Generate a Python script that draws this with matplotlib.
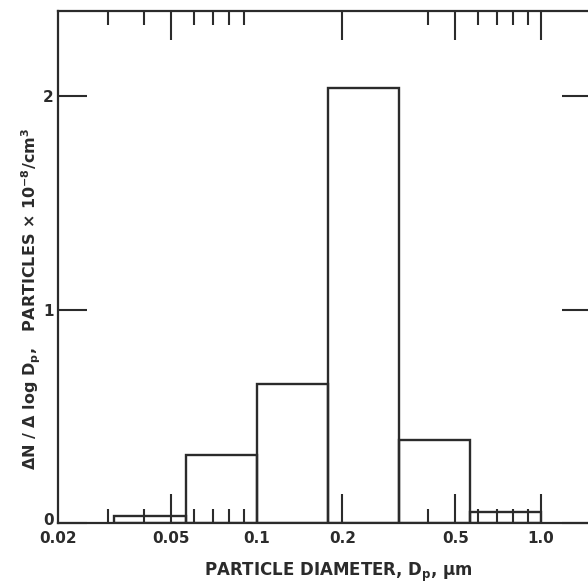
import matplotlib
matplotlib.use('Agg')
import matplotlib.pyplot as plt
from matplotlib.transforms import ScaledTranslation

# bin edges (um) and heights
bin_edges = [0.0316, 0.0562, 0.1, 0.178, 0.316, 0.562, 1.0]
counts = [0.033, 0.32, 0.65, 2.04, 0.39, 0.05]

x_major = [0.02, 0.05, 0.1, 0.2, 0.5, 1.0]
x_labels = ['0.02', '0.05', '0.1', '0.2', '0.5', '1.0']
x_minor = [0.03, 0.04, 0.06, 0.07, 0.08, 0.09, 0.4, 0.6, 0.7, 0.8, 0.9]
y_major = [0, 1, 2]
y_labels = ['0', '1', '2']

ink = '#2b2b2b'
plt.rcParams['font.family'] = ['DejaVu Sans']
plt.rcParams['font.weight'] = 'bold'

fig = plt.figure(figsize=(5.88, 5.87), dpi=100)
ax = fig.add_axes([58 / 588, 64 / 587, 533 / 588, 512.3 / 587])

# histogram drawn as outlined boxes
for i in range(len(counts)):
    ax.bar(bin_edges[i], counts[i], width=bin_edges[i + 1] - bin_edges[i],
           align='edge', fill=False, edgecolor=ink, linewidth=1.7)

ax.set_xscale('log')
ax.set_xlim(0.02, 1.5)
ax.set_ylim(0, 2.4)

ax.set_xticks(x_major)
ax.set_xticklabels(x_labels)
ax.set_xticks(x_minor, minor=True)
ax.xaxis.set_minor_formatter(matplotlib.ticker.NullFormatter())
ax.set_yticks(y_major)
ax.set_yticklabels(y_labels)

ax.tick_params(axis='x', which='major', direction='in', length=21, width=1.5,
               top=True, bottom=True, color=ink, labelsize=11, pad=6,
               labelcolor=ink)
ax.tick_params(axis='x', which='minor', direction='in', length=10, width=1.5,
               top=True, bottom=True, color=ink)
ax.tick_params(axis='y', which='major', direction='in', length=21, width=1.5,
               left=True, right=True, color=ink, labelsize=11, pad=3,
               labelcolor=ink)
ax.tick_params(axis='y', which='minor', left=False, right=False)

# no tick marks at 0.02 and 0.1
for k in (0, 2):
    t = ax.xaxis.get_major_ticks()[k]
    t.tick1line.set_visible(False)
    t.tick2line.set_visible(False)

# lift the "0" so it sits above "0.02"
zero = ax.get_yticklabels()[0]
zero.set_transform(zero.get_transform() + ScaledTranslation(0, 3 / 72, fig.dpi_scale_trans))

for s in ax.spines.values():
    s.set_linewidth(1.6)
    s.set_color(ink)

fig.text(338 / 588, 1 - 572 / 587, 'PARTICLE DIAMETER, D$_\\mathregular{p}$, $\\mathregular{\\mu}$m',
         ha='center', va='center', fontsize=12, color=ink)
fig.text(31 / 588, 1 - 299 / 587,
         '$\\mathregular{\\Delta}$N / $\\mathregular{\\Delta}$ log D$_\\mathregular{p}$,   PARTICLES $\\mathregular{\\times}$ 10$^\\mathregular{-8}$/cm$^\\mathregular{3}$',
         ha='center', va='center', rotation=90, fontsize=11.5, color=ink)

fig.savefig('out.png', dpi=100)
